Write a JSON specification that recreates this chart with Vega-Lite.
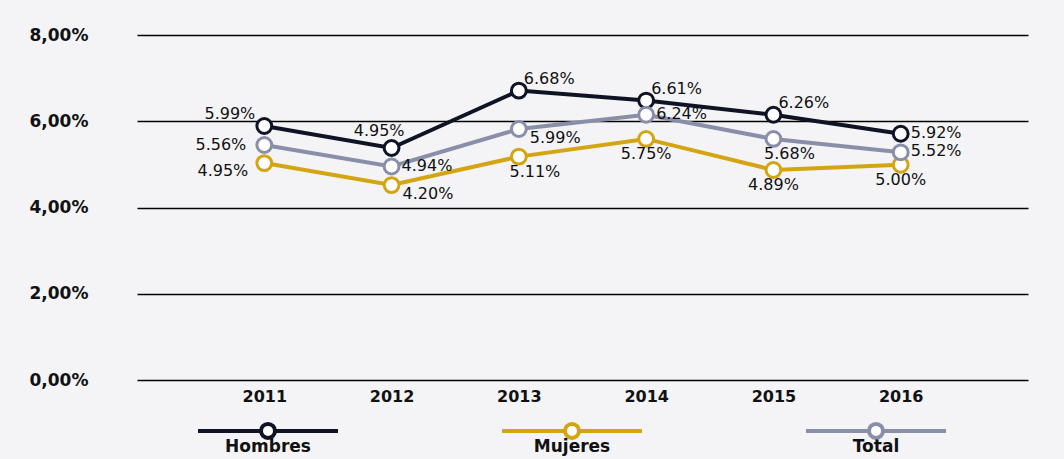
{
  "$schema": "https://vega.github.io/schema/vega-lite/v6.json",
  "width": 891,
  "height": 345,
  "autosize": {"type": "none"},
  "padding": {"left": 137, "top": 35, "right": 36, "bottom": 79},
  "background": "#f4f4f6",
  "data": {
    "values": [
      {"year": "2011", "series": "Hombres", "value": 5.89, "label": "5.99%"},
      {"year": "2012", "series": "Hombres", "value": 5.38, "label": "4.95%"},
      {"year": "2013", "series": "Hombres", "value": 6.71, "label": "6.68%"},
      {"year": "2014", "series": "Hombres", "value": 6.48, "label": "6.61%"},
      {"year": "2015", "series": "Hombres", "value": 6.15, "label": "6.26%"},
      {"year": "2016", "series": "Hombres", "value": 5.71, "label": "5.92%"},
      {"year": "2011", "series": "Mujeres", "value": 5.03, "label": "4.95%"},
      {"year": "2012", "series": "Mujeres", "value": 4.52, "label": "4.20%"},
      {"year": "2013", "series": "Mujeres", "value": 5.18, "label": "5.11%"},
      {"year": "2014", "series": "Mujeres", "value": 5.59, "label": "5.75%"},
      {"year": "2015", "series": "Mujeres", "value": 4.87, "label": "4.89%"},
      {"year": "2016", "series": "Mujeres", "value": 4.99, "label": "5.00%"},
      {"year": "2011", "series": "Total", "value": 5.45, "label": "5.56%"},
      {"year": "2012", "series": "Total", "value": 4.95, "label": "4.94%"},
      {"year": "2013", "series": "Total", "value": 5.82, "label": "5.99%"},
      {"year": "2014", "series": "Total", "value": 6.15, "label": "6.24%"},
      {"year": "2015", "series": "Total", "value": 5.59, "label": "5.68%"},
      {"year": "2016", "series": "Total", "value": 5.28, "label": "5.52%"}
    ]
  },
  "encoding": {
    "x": {
      "field": "year", "type": "ordinal",
      "scale": {"type": "point", "padding": 1},
      "axis": {"title": null, "labelAngle": 0, "domain": false, "ticks": false, "grid": false,
               "labelFont": "DejaVu Sans", "labelFontSize": 16, "labelFontWeight": "bold",
               "labelColor": "#111111", "labelPadding": 8}
    },
    "y": {
      "field": "value", "type": "quantitative",
      "scale": {"domain": [0, 8]},
      "axis": {"title": null, "values": [0, 2, 4, 6, 8], "domain": false, "ticks": false,
               "grid": true, "gridColor": "#000000", "gridWidth": 1.5, "gridOpacity": 1,
               "labelExpr": "replace(format(datum.value, '.2f'), '.', ',') + '%'",
               "labelFont": "DejaVu Sans", "labelFontSize": 17, "labelFontWeight": "bold",
               "labelColor": "#111111", "labelAlign": "left", "labelPadding": 108}
    }
  },
  "layer": [
    {
      "mark": {"type": "line", "strokeWidth": 4},
      "encoding": {
        "stroke": {
          "field": "series", "type": "nominal",
          "scale": {"domain": ["Hombres", "Mujeres", "Total"], "range": ["#0f1424", "#d4a512", "#8a8fa9"]},
          "legend": {
            "title": null, "orient": "none", "legendX": 59, "legendY": 340,
            "direction": "horizontal", "columns": 3, "columnPadding": 148,
            "symbolType": "M-1,-0.23H-0.1M0.1,-0.23H1M0.1,-0.23A0.1,0.1,0,1,1,-0.1,-0.23A0.1,0.1,0,1,1,0.1,-0.23Z",
            "symbolSize": 19600, "symbolStrokeWidth": 4, "symbolFillColor": "#ffffff",
            "labelAlign": "center", "labelOffset": -72, "labelFont": "DejaVu Sans",
            "labelFontSize": 17, "labelFontWeight": "bold", "labelColor": "#111111"
          }
        }
      }
    },
    {
      "mark": {"type": "point", "filled": true, "fill": "#ffffff", "size": 220, "strokeWidth": 3, "opacity": 1},
      "encoding": {"stroke": {"field": "series", "type": "nominal", "legend": null}}
    },
    {
      "transform": [{"filter": "indexof(['Total 2014', 'Total 2016', 'Hombres 2016', 'Total 2012'], datum.series + ' ' + datum.year) >= 0"}],
      "mark": {"type": "text", "align": "left", "baseline": "middle", "dx": 10, "dy": -1, "font": "DejaVu Sans", "fontSize": 16, "color": "#111111"},
      "encoding": {"text": {"field": "label"}}
    },
    {
      "transform": [{"filter": "indexof(['Total 2013', 'Mujeres 2012'], datum.series + ' ' + datum.year) >= 0"}],
      "mark": {"type": "text", "align": "left", "baseline": "middle", "dx": 11, "dy": 9, "font": "DejaVu Sans", "fontSize": 16, "color": "#111111"},
      "encoding": {"text": {"field": "label"}}
    },
    {
      "transform": [{"filter": "indexof(['Hombres 2013', 'Hombres 2014', 'Hombres 2015'], datum.series + ' ' + datum.year) >= 0"}],
      "mark": {"type": "text", "align": "left", "baseline": "middle", "dx": 5, "dy": -12, "font": "DejaVu Sans", "fontSize": 16, "color": "#111111"},
      "encoding": {"text": {"field": "label"}}
    },
    {
      "transform": [{"filter": "indexof(['Mujeres 2014', 'Mujeres 2015', 'Mujeres 2016'], datum.series + ' ' + datum.year) >= 0"}],
      "mark": {"type": "text", "align": "center", "baseline": "middle", "dx": 0, "dy": 15, "font": "DejaVu Sans", "fontSize": 16, "color": "#111111"},
      "encoding": {"text": {"field": "label"}}
    },
    {
      "transform": [{"filter": "indexof(['Mujeres 2013', 'Total 2015'], datum.series + ' ' + datum.year) >= 0"}],
      "mark": {"type": "text", "align": "center", "baseline": "middle", "dx": 16, "dy": 15, "font": "DejaVu Sans", "fontSize": 16, "color": "#111111"},
      "encoding": {"text": {"field": "label"}}
    },
    {
      "transform": [{"filter": "indexof(['Total 2011'], datum.series + ' ' + datum.year) >= 0"}],
      "mark": {"type": "text", "align": "right", "baseline": "middle", "dx": -18, "dy": 0, "font": "DejaVu Sans", "fontSize": 16, "color": "#111111"},
      "encoding": {"text": {"field": "label"}}
    },
    {
      "transform": [{"filter": "indexof(['Mujeres 2011'], datum.series + ' ' + datum.year) >= 0"}],
      "mark": {"type": "text", "align": "right", "baseline": "middle", "dx": -16, "dy": 8, "font": "DejaVu Sans", "fontSize": 16, "color": "#111111"},
      "encoding": {"text": {"field": "label"}}
    },
    {
      "transform": [{"filter": "indexof(['Hombres 2011'], datum.series + ' ' + datum.year) >= 0"}],
      "mark": {"type": "text", "align": "right", "baseline": "middle", "dx": -9, "dy": -12, "font": "DejaVu Sans", "fontSize": 16, "color": "#111111"},
      "encoding": {"text": {"field": "label"}}
    },
    {
      "transform": [{"filter": "indexof(['Hombres 2012'], datum.series + ' ' + datum.year) >= 0"}],
      "mark": {"type": "text", "align": "right", "baseline": "middle", "dx": 13, "dy": -17, "font": "DejaVu Sans", "fontSize": 16, "color": "#111111"},
      "encoding": {"text": {"field": "label"}}
    }
  ],
  "config": {"view": {"stroke": null}}
}
